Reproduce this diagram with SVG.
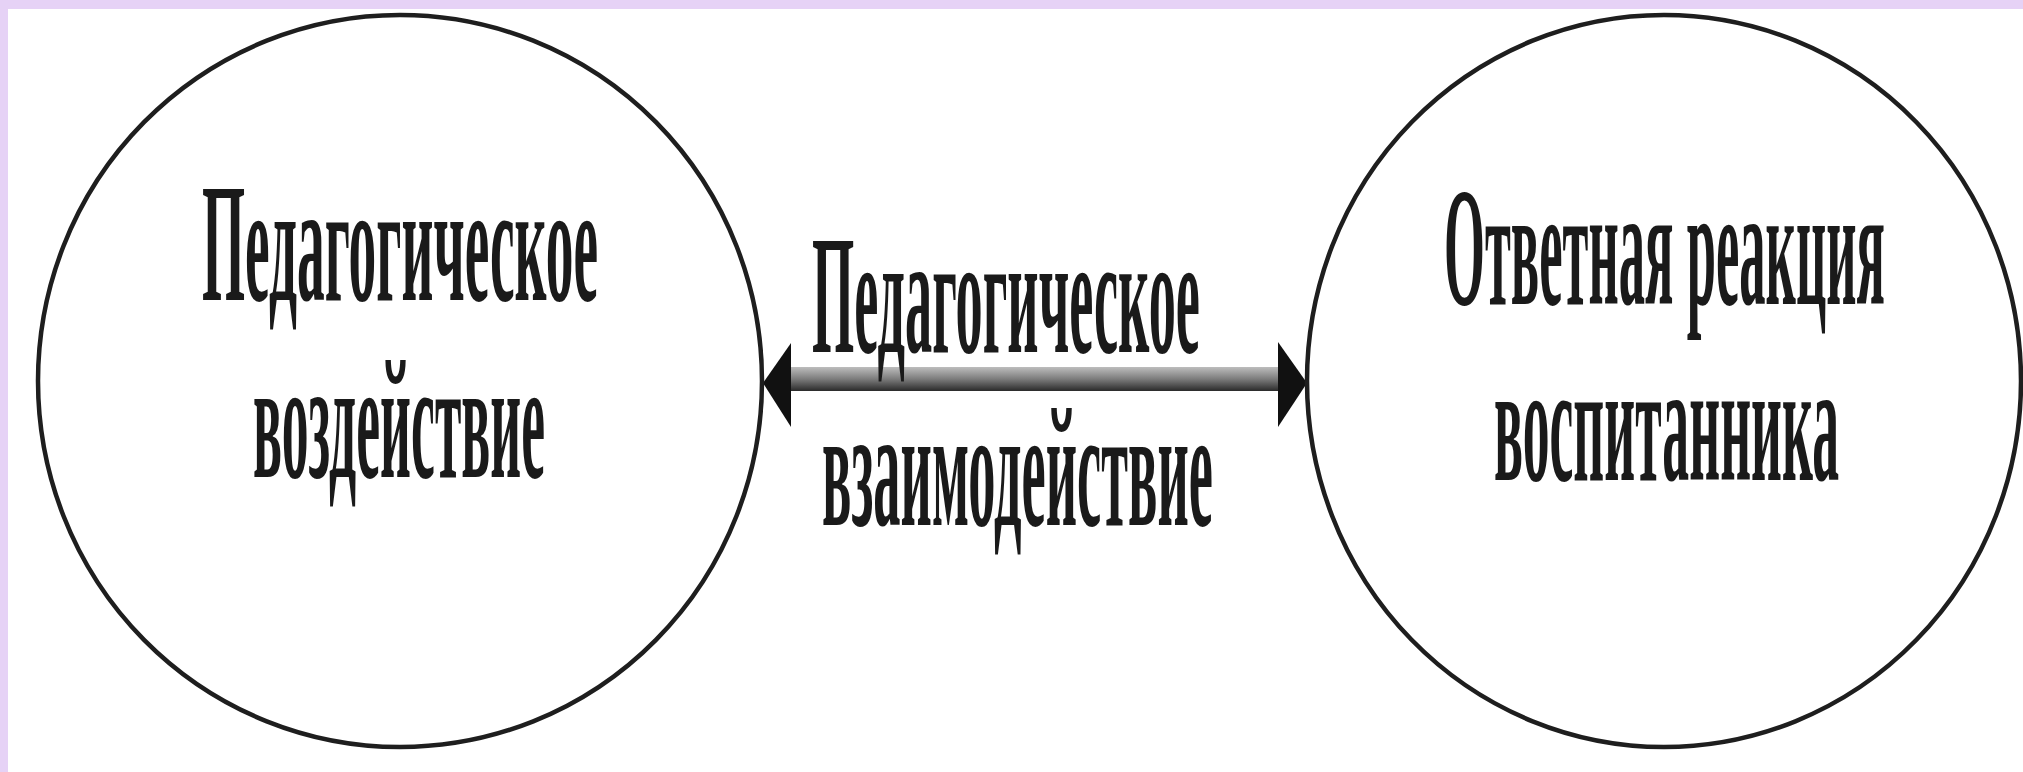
<svg xmlns="http://www.w3.org/2000/svg" width="2023" height="772" viewBox="0 0 2023 772">
  <defs>
    <style>
      .oval { fill: none; stroke: #1e1e1e; stroke-width: 4.5; }
      .lbl { font-family: "Liberation Serif", "Times New Roman", serif; font-size: 170px; font-weight: bold; fill: #1a1a1a; }
      .head { fill: #111; }
    </style>
    <linearGradient id="bar" x1="0" y1="0" x2="0" y2="1">
      <stop offset="0" stop-color="#bdbdbd"/>
      <stop offset="0.5" stop-color="#7c7c7c"/>
      <stop offset="1" stop-color="#2a2a2a"/>
    </linearGradient>
  </defs>
  <rect x="0" y="0" width="2023" height="772" fill="#ffffff"/>
  <rect x="0" y="0" width="2023" height="9" fill="#e6d2f6"/>
  <rect x="0" y="0" width="8" height="772" fill="#e6d2f6"/>

  <g id="connectors">
    <rect x="788" y="367" width="492" height="24" fill="url(#bar)"/>
    <polygon class="head" points="763,383 791,343 791,427"/>
    <polygon class="head" points="1307,383 1278,342 1278,427"/>
    <text class="lbl" transform="translate(812,352) scale(0.34,1)" x="0" y="0" textLength="1141" lengthAdjust="spacingAndGlyphs">Педагогическое</text>
    <text class="lbl" transform="translate(822,525) scale(0.34,1)" x="0" y="0" textLength="1150" lengthAdjust="spacingAndGlyphs">взаимодействие</text>
  </g>

  <g id="node-left">
    <ellipse class="oval" cx="400" cy="381" rx="362" ry="366"/>
    <text class="lbl" transform="translate(202,300) scale(0.34,1)" x="0" y="0" textLength="1165" lengthAdjust="spacingAndGlyphs">Педагогическое</text>
    <text class="lbl" transform="translate(253,477) scale(0.34,1)" x="0" y="0" textLength="859" lengthAdjust="spacingAndGlyphs">воздействие</text>
  </g>

  <g id="node-right">
    <ellipse class="oval" cx="1664" cy="381" rx="357" ry="366"/>
    <text class="lbl" transform="translate(1444,304) scale(0.34,1)" x="0" y="0" textLength="1297" lengthAdjust="spacingAndGlyphs">Ответная реакция</text>
    <text class="lbl" transform="translate(1494,480) scale(0.34,1)" x="0" y="0" textLength="1015" lengthAdjust="spacingAndGlyphs">воспитанника</text>
  </g>
</svg>
